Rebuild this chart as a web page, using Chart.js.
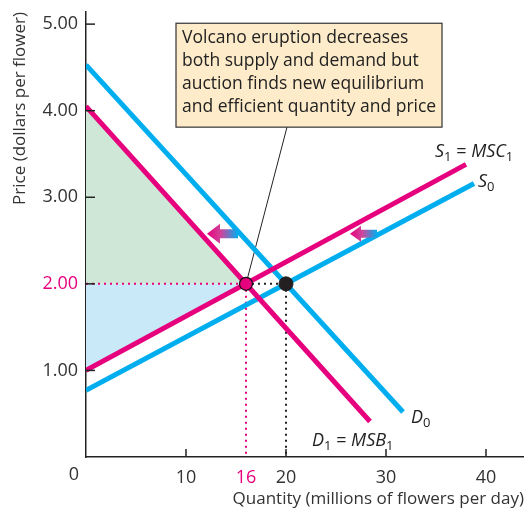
<!DOCTYPE html>
<html>
<head>
<meta charset="utf-8">
<script src="https://cdn.jsdelivr.net/npm/chart.js@4.4.0/dist/chart.umd.min.js"></script>
<style>
  html, body { margin: 0; padding: 0; background: #fff; }
  #wrap { width: 524px; height: 510px; }
</style>
</head>
<body>
<div id="wrap"><canvas id="chart"></canvas></div>
<script>
// each curve as [quantity, price] end points
const demand0 = [[0, 4.53], [31.7, 0.52]];
const demand1 = [[0, 4.05], [28.4, 0.41]];
const supply0 = [[0, 0.77], [38.8, 3.16]];
const supply1 = [[0, 1.0], [38.0, 3.38]];

const eqNew = [16, 2.0];
const eqOld = [20, 2.0];

const xTicks = [0, 10, 16, 20, 30, 40];
const yTicks = [1, 2, 3, 4, 5];

// edges of the shaded surplus areas (filled to price 2.00)
const surplusTop = [[0, 4.05], [16, 2.0]];
const surplusBottom = [[0, 1.0], [16, 2.0]];

// shift arrows: [tip quantity, tail quantity, price]
const arrows = [[12.1, 15.2, 2.58], [26.4, 29.1, 2.58]];

const noteLines = [
  'Volcano eruption decreases',
  'both supply and demand but',
  'auction finds new equilibrium',
  'and efficient quantity and price'
];
const noteBox = [9.0, 5.01, 35.6, 3.81];   // x0, top, x1, bottom
const noteLeader = [[20.1, 3.81], eqNew];

const PINK = '#e6007e';
const BLUE = '#00aeef';
const FONT = '"Open Sans", sans-serif';

const pts = arr => arr.map(p => ({ x: p[0], y: p[1] }));

function curve(data, color) {
  return { data: pts(data), borderColor: color, borderWidth: 5, pointRadius: 0, fill: false };
}
function dotted(data, color) {
  return { data: pts(data), borderColor: color, borderWidth: 2, borderDash: [2, 4], pointRadius: 0, fill: false };
}

// text with upright subscripts, parts = [text, isSub, isItalic]
function richText(ctx, parts, x, y) {
  parts.forEach(([t, sub, ital]) => {
    ctx.font = (ital ? 'italic ' : '') + (sub ? '13px ' : '18px ') + FONT;
    ctx.fillText(t, x, sub ? y + 4 : y);
    x += ctx.measureText(t).width;
  });
}

const overlay = {
  id: 'overlay',
  beforeDatasetsDraw(chart) {
    const { ctx, scales: { x, y } } = chart;
    ctx.save();
    ctx.strokeStyle = '#222';
    ctx.lineWidth = 1;
    ctx.beginPath();
    ctx.moveTo(x.getPixelForValue(noteLeader[0][0]), y.getPixelForValue(noteLeader[0][1]));
    ctx.lineTo(x.getPixelForValue(noteLeader[1][0]), y.getPixelForValue(noteLeader[1][1]));
    ctx.stroke();
    ctx.restore();
  },
  afterDraw(chart) {
    const { ctx, chartArea: a, scales: { x, y } } = chart;
    ctx.save();

    // inward tick marks
    ctx.strokeStyle = '#222';
    ctx.lineWidth = 1.5;
    yTicks.forEach(v => {
      const py = y.getPixelForValue(v);
      ctx.beginPath(); ctx.moveTo(a.left, py); ctx.lineTo(a.left + 9, py); ctx.stroke();
    });
    [10, 20, 30, 40].forEach(v => {
      const px = x.getPixelForValue(v);
      ctx.beginPath(); ctx.moveTo(px, a.bottom); ctx.lineTo(px, a.bottom - 8); ctx.stroke();
    });

    // origin label
    ctx.fillStyle = '#333';
    ctx.font = '18px ' + FONT;
    ctx.textAlign = 'center';
    ctx.textBaseline = 'middle';
    ctx.fillText('0', a.left - 12, a.bottom + 18);

    // shift arrows
    arrows.forEach(([q0, q1, p], i) => {
      const x0 = x.getPixelForValue(q0), x1 = x.getPixelForValue(q1), py = y.getPixelForValue(p);
      const hw = i === 0 ? 13 : 11, hh = i === 0 ? 10 : 8, bh = i === 0 ? 4.5 : 4;
      const g = ctx.createLinearGradient(x0, 0, x1, 0);
      g.addColorStop(0, PINK);
      g.addColorStop(0.45, '#d0449a');
      g.addColorStop(1, BLUE);
      ctx.fillStyle = g;
      ctx.beginPath();
      ctx.moveTo(x0, py);
      ctx.lineTo(x0 + hw, py - hh);
      ctx.lineTo(x0 + hw, py - bh);
      ctx.lineTo(x1, py - bh);
      ctx.lineTo(x1, py + bh);
      ctx.lineTo(x0 + hw, py + bh);
      ctx.lineTo(x0 + hw, py + hh);
      ctx.closePath();
      ctx.fill();
    });

    // note box
    const bx0 = x.getPixelForValue(noteBox[0]), by0 = y.getPixelForValue(noteBox[1]);
    const bx1 = x.getPixelForValue(noteBox[2]), by1 = y.getPixelForValue(noteBox[3]);
    ctx.fillStyle = '#fdebc9';
    ctx.fillRect(bx0, by0, bx1 - bx0, by1 - by0);
    ctx.strokeStyle = '#333';
    ctx.lineWidth = 1.2;
    ctx.strokeRect(bx0, by0, bx1 - bx0, by1 - by0);
    ctx.fillStyle = '#222';
    ctx.font = '17.5px ' + FONT;
    ctx.textAlign = 'left';
    ctx.textBaseline = 'alphabetic';
    noteLines.forEach((t, i) => ctx.fillText(t, bx0 + 6, by0 + 20 + i * 23));

    // curve labels
    ctx.fillStyle = '#222';
    const at = (q, p) => [x.getPixelForValue(q), y.getPixelForValue(p)];
    richText(ctx, [['S', false, true], ['1', true, false], [' = ', false, false], ['MSC', false, true], ['1', true, false]], ...at(34.9, 3.47));
    richText(ctx, [['S', false, true], ['0', true, false]], ...at(39.2, 3.12));
    richText(ctx, [['D', false, true], ['0', true, false]], ...at(32.5, 0.39));
    richText(ctx, [['D', false, true], ['1', true, false], [' = ', false, false], ['MSB', false, true], ['1', true, false]], ...at(22.6, 0.13));

    ctx.restore();
  }
};

new Chart(document.getElementById('chart'), {
  type: 'line',
  data: {
    datasets: [
      { data: pts([eqNew]), pointRadius: 6.5, pointBackgroundColor: PINK, pointBorderColor: '#111', pointBorderWidth: 1.2, showLine: false },
      { data: pts([eqOld]), pointRadius: 7, pointBackgroundColor: '#231f20', pointBorderColor: '#231f20', showLine: false },
      curve(demand1, PINK),
      curve(supply1, PINK),
      curve(demand0, BLUE),
      curve(supply0, BLUE),
      dotted([[0, 2], eqNew], PINK),
      dotted([eqNew, [16, 0]], PINK),
      dotted([eqNew, eqOld], '#222'),
      dotted([eqOld, [20, 0]], '#222'),
      { data: pts(surplusTop), borderWidth: 0, pointRadius: 0, fill: { value: 2 }, backgroundColor: '#cfe7d6' },
      { data: pts(surplusBottom), borderWidth: 0, pointRadius: 0, fill: { value: 2 }, backgroundColor: '#c9e9f8' }
    ]
  },
  options: {
    responsive: true,
    maintainAspectRatio: false,
    animation: false,
    layout: { autoPadding: false, padding: { top: 12, right: 0, left: 0, bottom: 0 } },
    plugins: { legend: { display: false }, tooltip: { enabled: false } },
    scales: {
      x: {
        type: 'linear',
        min: 0,
        max: 43.8,
        afterBuildTicks: s => { s.ticks = xTicks.map(v => ({ value: v })); },
        afterFit: s => { s.height = 53; s.paddingLeft = 0; s.paddingRight = 0; },
        grid: { drawOnChartArea: false, drawTicks: false },
        border: { color: '#222', width: 1.5 },
        ticks: {
          autoSkip: false,
          maxRotation: 0,
          padding: 10,
          font: { size: 18, family: FONT },
          color: c => c.tick && c.tick.value === 16 ? PINK : '#333',
          callback: v => v === 0 ? '' : String(v)
        },
        title: {
          display: true,
          text: 'Quantity (millions of flowers per day)',
          align: 'end',
          color: '#333',
          font: { size: 17, family: FONT },
          padding: { top: 0, bottom: 1 }
        }
      },
      y: {
        type: 'linear',
        min: 0,
        max: 5.14,
        afterBuildTicks: s => { s.ticks = yTicks.map(v => ({ value: v })); },
        afterFit: s => { s.width = 86; s.paddingTop = 0; s.paddingBottom = 0; },
        grid: { drawOnChartArea: false, drawTicks: false },
        border: { color: '#222', width: 1.5 },
        ticks: {
          padding: 8,
          font: { size: 18, family: FONT },
          color: c => c.tick && c.tick.value === 2 ? PINK : '#333',
          callback: v => v.toFixed(2)
        },
        title: {
          display: true,
          text: 'Price (dollars per flower)',
          align: 'end',
          color: '#333',
          font: { size: 17, family: FONT },
          padding: { top: 10, bottom: 0 }
        }
      }
    }
  },
  plugins: [overlay]
});
</script>
</body>
</html>
